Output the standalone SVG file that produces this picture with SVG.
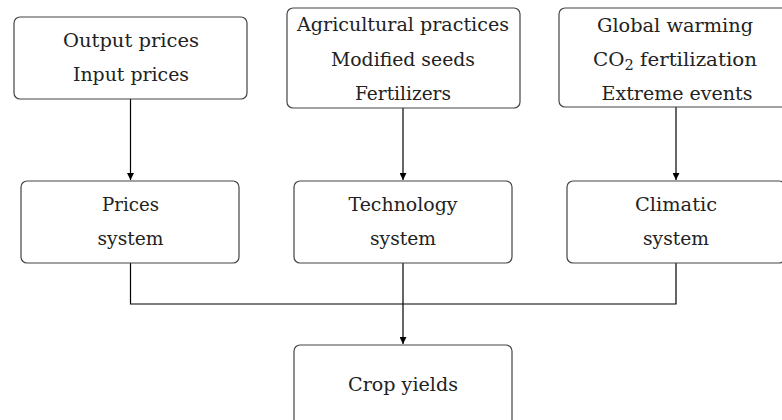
<svg xmlns="http://www.w3.org/2000/svg" width="782" height="420" viewBox="0 0 782 420">
<defs>
<marker id="arr" viewBox="0 0 10 10" refX="10" refY="5" markerWidth="7" markerHeight="7" markerUnits="userSpaceOnUse" orient="auto">
<path d="M0,0 L10,5 L0,10 Z" fill="#000"/>
</marker>
<style>
.box{fill:#fff;stroke:#444;stroke-width:1.2}
text{font-family:'DejaVu Serif',serif;font-size:19px;fill:#222;text-anchor:middle}
.c{fill:none;stroke:#000;stroke-width:1.2}
</style>
</defs>
<rect width="782" height="420" fill="#fff"/>
<g id="connectors">
<path class="c" d="M130.5,99 V180" marker-end="url(#arr)"/>
<path class="c" d="M403,108 V180" marker-end="url(#arr)"/>
<path class="c" d="M676,107 V180" marker-end="url(#arr)"/>
<path class="c" d="M130.5,263 V304 H676 V263"/>
<path class="c" d="M403,263 V344" marker-end="url(#arr)"/>
</g>
<g id="n_market">
<rect class="box" x="14" y="17" width="233" height="82" rx="6"/>
<text x="131" y="47" textLength="136" lengthAdjust="spacingAndGlyphs">Output prices</text>
<text x="131" y="81" textLength="116" lengthAdjust="spacingAndGlyphs">Input prices</text>
</g>
<g id="n_tech_in">
<rect class="box" x="287" y="8" width="233" height="100" rx="6"/>
<text x="403" y="31" textLength="212" lengthAdjust="spacingAndGlyphs">Agricultural practices</text>
<text x="403" y="66" textLength="144" lengthAdjust="spacingAndGlyphs">Modified seeds</text>
<text x="403" y="100" textLength="96" lengthAdjust="spacingAndGlyphs">Fertilizers</text>
</g>
<g id="n_climate_in">
<rect class="box" x="559" y="8" width="233" height="99" rx="6"/>
<text x="675" y="32" textLength="156" lengthAdjust="spacingAndGlyphs">Global warming</text>
<text x="675" y="66" textLength="164" lengthAdjust="spacingAndGlyphs">CO<tspan font-size="14" dy="4">2</tspan><tspan dy="-4"> fertilization</tspan></text>
<text x="677" y="100" textLength="151" lengthAdjust="spacingAndGlyphs">Extreme events</text>
</g>
<g id="n_prices">
<rect class="box" x="21" y="181" width="218" height="82" rx="6"/>
<text x="130.5" y="211" textLength="57" lengthAdjust="spacingAndGlyphs">Prices</text>
<text x="130.5" y="245" textLength="66" lengthAdjust="spacingAndGlyphs">system</text>
</g>
<g id="n_technology">
<rect class="box" x="294" y="181" width="218" height="82" rx="6"/>
<text x="403" y="211" textLength="109" lengthAdjust="spacingAndGlyphs">Technology</text>
<text x="403" y="245" textLength="66" lengthAdjust="spacingAndGlyphs">system</text>
</g>
<g id="n_climatic">
<rect class="box" x="567" y="181" width="218" height="82" rx="6"/>
<text x="676" y="211" textLength="82" lengthAdjust="spacingAndGlyphs">Climatic</text>
<text x="676" y="245" textLength="66" lengthAdjust="spacingAndGlyphs">system</text>
</g>
<g id="n_yields">
<rect class="box" x="294" y="345" width="218" height="90" rx="6"/>
<text x="403" y="391" textLength="110" lengthAdjust="spacingAndGlyphs">Crop yields</text>
</g>
</svg>
